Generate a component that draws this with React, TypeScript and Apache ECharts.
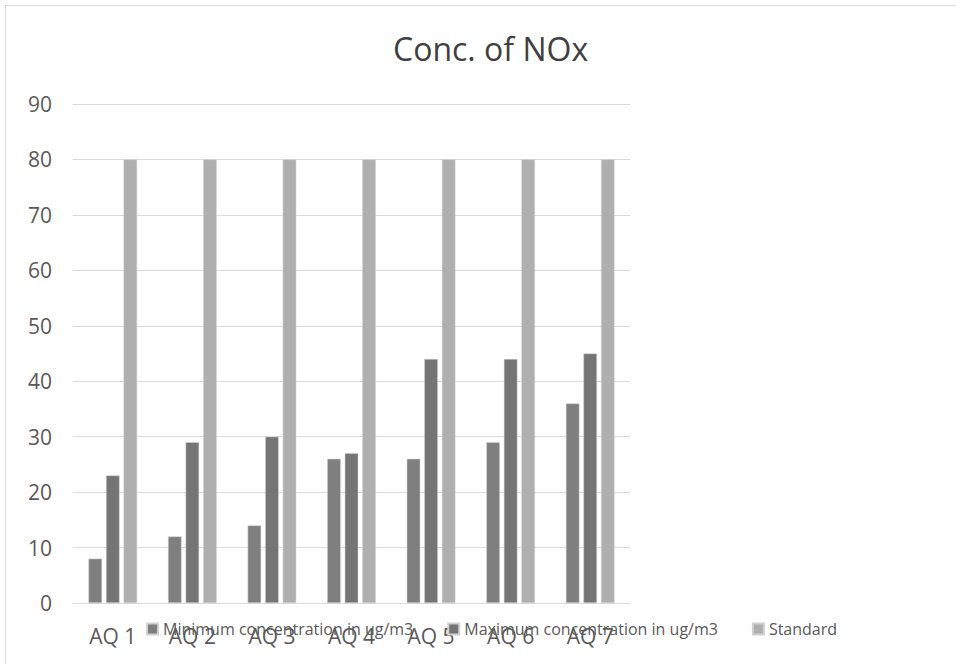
import React, { useEffect, useRef } from "react";
import * as echarts from "echarts";

const categories = ["AQ 1", "AQ 2", "AQ 3", "AQ 4", "AQ 5", "AQ 6", "AQ 7"];
const minConc = [8, 12, 14, 26, 26, 29, 36];
const maxConc = [23, 29, 30, 27, 44, 44, 45];
const standard = [80, 80, 80, 80, 80, 80, 80];
const seriesNames = [
  "Minimum concentration in ug/m3",
  "Maximum concentration in ug/m3",
  "Standard",
];
const seriesColors = ["#7f7f7f", "#757575", "#afafaf"];

export default function App() {
  const ref = useRef<HTMLDivElement>(null);
  useEffect(() => {
    document.body.style.margin = "0";
    const chart = echarts.init(ref.current!, null, { renderer: "svg" });
    const font = "'Open Sans', sans-serif";
    const datas = [minConc, maxConc, standard];
    chart.setOption({
      animation: false,
      backgroundColor: "#ffffff",
      textStyle: { fontFamily: font },
      title: {
        text: "Conc. of NOx",
        left: 388,
        top: 27,
        textStyle: { fontFamily: font, fontSize: 32, fontWeight: "normal", color: "#404040" },
      },
      graphic: [
        {
          type: "rect",
          shape: { x: 5.5, y: 5.5, width: 1200, height: 1200 },
          style: { fill: "none", stroke: "#d9d9d9", lineWidth: 1 },
          silent: true,
        },
      ],
      legend: {
        left: 141,
        top: 616,
        itemWidth: 11,
        itemHeight: 11,
        itemGap: 34,
        icon: "rect",
        textStyle: { fontFamily: font, fontSize: 16, color: "#595959" },
        data: seriesNames,
      },
      grid: { left: 73, right: 326, top: 104, bottom: 61, containLabel: false },
      xAxis: {
        type: "category",
        data: categories,
        axisLine: { lineStyle: { color: "#d9d9d9", width: 1 } },
        axisTick: { show: false },
        axisLabel: { fontFamily: font, fontSize: 21, color: "#595959", margin: 22 },
      },
      yAxis: {
        type: "value",
        min: 0,
        max: 90,
        interval: 10,
        axisLine: { show: false },
        axisTick: { show: false },
        splitLine: { lineStyle: { color: "#d9d9d9", width: 1 } },
        axisLabel: { fontFamily: font, fontSize: 21, color: "#595959", align: "right", margin: 21 },
      },
      series: seriesNames.map((name, i) => ({
        name,
        type: "bar",
        data: datas[i],
        barWidth: 13.5,
        barGap: "30%",
        itemStyle: { color: seriesColors[i], borderColor: "#d0d0d0", borderWidth: 0.5 },
      })),
    });
    return () => chart.dispose();
  }, []);
  return <div ref={ref} style={{ width: 956, height: 664 }} />;
}
